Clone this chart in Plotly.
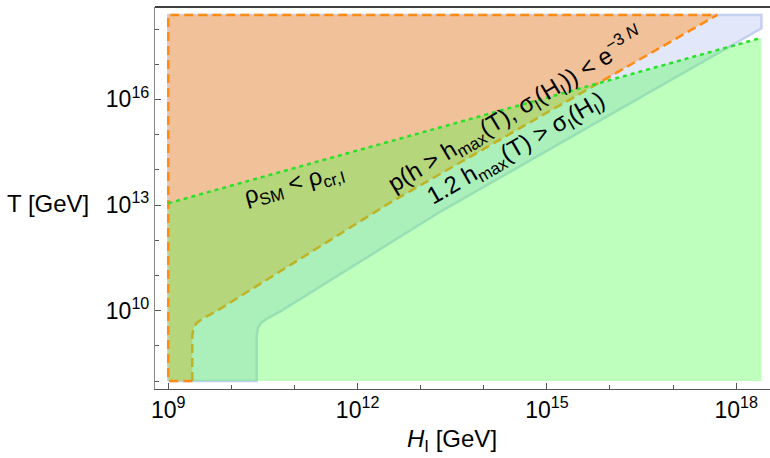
import numpy as np
import plotly.graph_objects as go

# ---- data (log10 of GeV values) ----
H_lo, H_hi = 9.0, 18.4          # log10 H_I range of the regions
T_lo, T_hi = 8.0, 18.4          # log10 T range of the regions

# rho_SM < rho_cr,I  boundary (green dotted)
rho_logH = [9.0, 18.4]
rho_logT = [13.05, 17.75]

# p(h > h_max(T), sigma_I(H_I)) < e^{-3N}  boundary (orange dashed)
p_logH = [9.38, 9.38, 9.40, 9.45, 9.55, 9.75, 12.5, 15.8, 17.7]
p_logT = [8.0, 9.30, 9.50, 9.65, 9.78, 9.97, 13.05, 16.45, 18.4]

# 1.2 h_max(T) > sigma_I(H_I)  boundary (light blue)
q_logH = [10.40, 10.40, 10.42, 10.47, 10.57, 10.77, 13.3, 18.4]
q_logT = [8.0, 9.30, 9.50, 9.65, 9.78, 9.97, 12.8, 18.02]

x_tick_exp = [9, 12, 15, 18]
y_tick_exp = [10, 13, 16]

# ---- figure geometry ----
W, Hh = 770, 458
ml, mr, mt, mb = 155, 0, 7, 69
xr = [8.789, 18.536]
yr = [7.773, 18.625]

def P(v):
    return [10 ** a for a in v]

fig = go.Figure()

# Q region (lavender)
qx = [H_lo] + q_logH + [H_hi, H_lo, H_lo]
qy = [T_lo] + q_logT + [T_hi, T_hi, T_lo]
fig.add_trace(go.Scatter(x=P(qx), y=P(qy), mode="lines", fill="toself",
                         fillcolor="rgb(226,232,250)",
                         line=dict(color="rgb(196,208,240)", width=2.5),
                         hoverinfo="skip", showlegend=False))

# P region (orange)
px_ = [H_lo, H_lo] + p_logH + [H_lo]
py_ = [T_hi, T_lo] + p_logT + [T_hi]
fig.add_trace(go.Scatter(x=P(px_), y=P(py_), mode="lines", fill="toself",
                         fillcolor="rgb(241,193,153)",
                         line=dict(color="rgba(0,0,0,0)", width=0),
                         hoverinfo="skip", showlegend=False))
# P curved boundary (under the green layer)
fig.add_trace(go.Scatter(x=P(p_logH), y=P(p_logT), mode="lines",
                         line=dict(color="rgb(255,138,20)", width=2.5, dash="9px,5px"),
                         hoverinfo="skip", showlegend=False))

# G region (green, translucent)
gx = [H_lo, H_hi, rho_logH[1], rho_logH[0], H_lo]
gy = [T_lo, T_lo, rho_logT[1], rho_logT[0], T_lo]
fig.add_trace(go.Scatter(x=P(gx), y=P(gy), mode="lines", fill="toself",
                         fillcolor="rgba(69,255,69,0.35)",
                         line=dict(color="rgba(0,0,0,0)", width=0),
                         hoverinfo="skip", showlegend=False))

# P frame edges (left, top, bottom) on top
fx = [p_logH[0], H_lo, H_lo, p_logH[-1]]
fy = [T_lo, T_lo, T_hi, T_hi]
fig.add_trace(go.Scatter(x=P(fx), y=P(fy), mode="lines",
                         line=dict(color="rgb(255,138,20)", width=2.5, dash="9px,5px"),
                         hoverinfo="skip", showlegend=False))

# green dotted boundary
fig.add_trace(go.Scatter(x=P(rho_logH), y=P(rho_logT), mode="lines",
                         line=dict(color="rgb(40,225,40)", width=2.5, dash="4px,4px"),
                         hoverinfo="skip", showlegend=False))

font = "Liberation Sans, Arial, sans-serif"

def px2paper(x, y):
    return (x - ml) / (W - ml - mr), (Hh - mb - y) / (Hh - mt - mb)

ann = []
def add(text, x, y, angle=0, size=24):
    ax, ay = px2paper(x, y)
    ann.append(dict(text=text, x=ax, y=ay, xref="paper", yref="paper",
                    showarrow=False, textangle=angle, xanchor="center",
                    yanchor="middle", font=dict(family=font, size=size, color="black")))

add("T [GeV]", 48, 203)
add("<i>H</i><sub>I</sub> [GeV]", 452, 440)
add("ρ<sub>SM</sub> &lt; ρ<sub>cr,I</sub>", 294, 184, -15.5, 24)
add("p(h &gt; h<sub>max</sub>(T), σ<sub>I</sub>(H<sub>I</sub>)) &lt; e<sup>−3 <i>N</i></sup>",
    516, 110, -31, 24)
add("1.2 h<sub>max</sub>(T) &gt; σ<sub>I</sub>(H<sub>I</sub>)", 516, 149, -30, 24)

fig.update_layout(
    width=W, height=Hh, margin=dict(l=ml, r=mr, t=mt, b=mb),
    paper_bgcolor="white", plot_bgcolor="white",
    annotations=ann,
    shapes=[dict(type="line", xref="paper", yref="paper", x0=0, x1=1, y0=1, y1=1,
                 line=dict(color="black", width=1.5))],
    font=dict(family=font, size=23, color="black"),
)
fig.update_xaxes(type="log", range=xr, showgrid=False, zeroline=False,
                 showline=True, linecolor="#555", linewidth=1.2,
                 ticks="inside", ticklen=6, tickcolor="#555",
                 tickvals=[10 ** e for e in x_tick_exp],
                 ticktext=[f"10<sup>{e}</sup>" for e in x_tick_exp],
                 minor=dict(tickvals=[10 ** e for e in range(9, 19)], ticks="inside",
                            ticklen=4, tickcolor="#555"),
                 tickfont=dict(family=font, size=23, color="black"))
fig.update_yaxes(type="log", range=yr, showgrid=False, zeroline=False,
                 showline=True, linecolor="#888", linewidth=1.2,
                 ticks="inside", ticklen=6, tickcolor="#555",
                 tickvals=[10 ** e for e in y_tick_exp],
                 ticktext=[f"10<sup>{e}</sup>" for e in y_tick_exp],
                 minor=dict(tickvals=[10 ** e for e in range(8, 19)], ticks="inside",
                            ticklen=4, tickcolor="#555"),
                 tickfont=dict(family=font, size=23, color="black"))

fig.write_html("out.html")
